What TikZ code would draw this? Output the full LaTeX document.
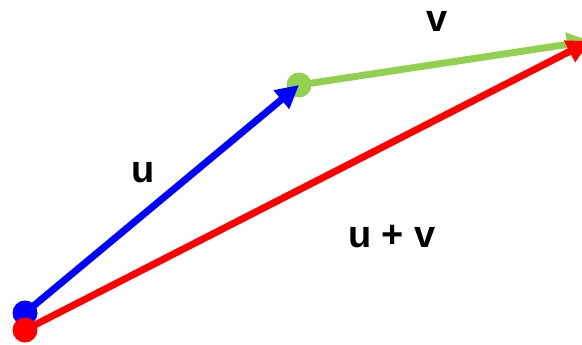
\documentclass[tikz,border=0pt]{standalone}
\usepackage{fontspec}
\setmainfont{Liberation Sans}
\usepackage{tikz}
\usetikzlibrary{arrows.meta,positioning}
\definecolor{vecblue}{RGB}{0,0,255}
\definecolor{vecgreen}{RGB}{146,208,80}
\definecolor{vecred}{RGB}{255,0,0}
\tikzset{
  vec/.style={-{Triangle[length=23pt,width=23pt]},line width=7pt,color=#1},
  vec/.default=black,
  dot/.style={circle,fill=#1,minimum size=25pt,inner sep=0pt},
  lbl/.style={font=\fontsize{38}{40}\selectfont\bfseries,text=black,inner sep=0pt},
}
\begin{document}
\begin{tikzpicture}[x=1pt,y=-1pt]
    \useasboundingbox (0,0) rectangle (582,345);
    % end points
    \coordinate (o1) at (25,313);
    \coordinate (o2) at (25,330);
    \coordinate (m) at (299,85);
    \coordinate (e) at (590,41);
    % vectors
    \node[dot=vecgreen] (gdot) at (m) {};
    \draw[vec=vecgreen] (m)--(e);
    \draw[vec=vecblue] (o1)--(m);
    \node[dot=vecblue] (bdot) at (o1) {};
    \draw[vec=vecred] (o2)--(e);
    \node[dot=vecred] (rdot) at (o2) {};
    % labels
    \node[lbl] (lu) at (143,173) {u};
    \node[lbl] (lv) at (437,21) {v};
    \node[lbl] (luv) at (392,237) {u + v};
\end{tikzpicture}
\end{document}
